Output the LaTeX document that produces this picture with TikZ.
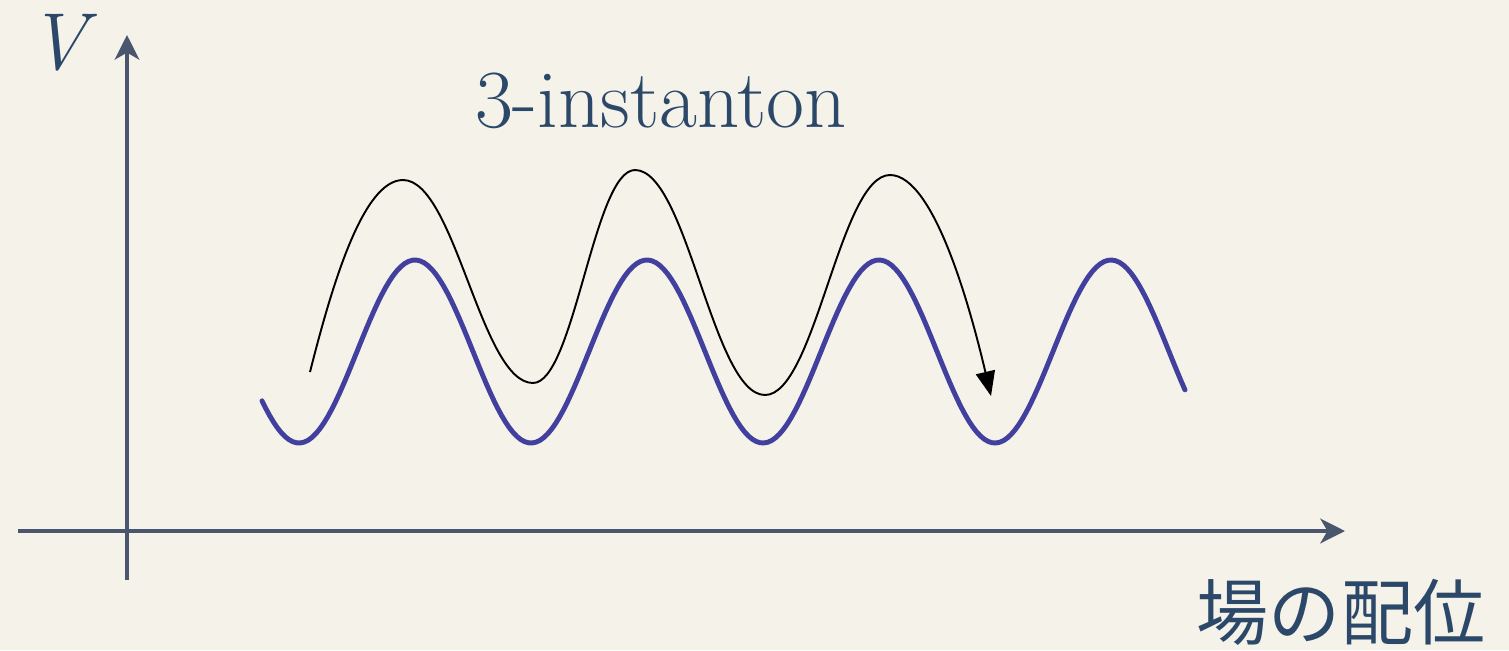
\documentclass[tikz,border=0pt]{standalone}
\usepackage{fontspec}
\newfontfamily\jpfont{Noto Sans CJK JP}
\usepackage{xcolor}
\usepackage{tikz}
\usetikzlibrary{arrows.meta,positioning}
\definecolor{paper}{RGB}{245,242,234}
\definecolor{axisgray}{RGB}{74,86,110}
\definecolor{labelblue}{RGB}{44,72,105}
\definecolor{wave}{RGB}{66,64,158}

\begin{document}
\begin{tikzpicture}[x=0.02cm, y=-0.02cm, axis/.style={-{Stealth[length=14pt,width=14pt,inset=4pt]}, line width=2.3pt, color=axisgray}, lbl/.style={text=labelblue, inner sep=0pt}, path/.style={-{Triangle[length=14pt,width=11pt]}, line width=1.1pt}]
\fill[paper] (0,0) rectangle (1509,650);
\useasboundingbox (0,0) rectangle (1509,650);
% axes
\coordinate (ybot) at (127,580);
\coordinate (ytop) at (127,35);
\coordinate (xleft) at (18,531);
\coordinate (xright) at (1345,531);
\draw[axis] (ybot) -- (ytop);
\draw[axis] (xleft) -- (xright);
\node[lbl, font=\fontsize{46}{50}\selectfont\itshape] (vlab) at (58,43) {V};
\node[lbl, anchor=base, font=\fontsize{47}{52}\selectfont] (title) at (661,127) {3-instanton};
\node[lbl, font=\fontsize{41}{46}\selectfont\jpfont] (xlab) at (1341,612) {場の配位};
% potential
\draw[wave, line width=2.8pt, line cap=round] plot[domain=262:1185, samples=240] (\x, {351.5-91.5*cos((\x-415)*1.55172)});
% tunnelling path
\draw[path] (310,372) .. controls (332,285) and (363,180) .. (403,180)
  .. controls (455,180) and (481,383) .. (533,383)
  .. controls (574,383) and (594,170) .. (635,170)
  .. controls (687,170) and (713,395) .. (765,395)
  .. controls (815,395) and (840,175) .. (890,175)
  .. controls (935,175) and (972,315) .. (991,396);
\end{tikzpicture}
\end{document}
